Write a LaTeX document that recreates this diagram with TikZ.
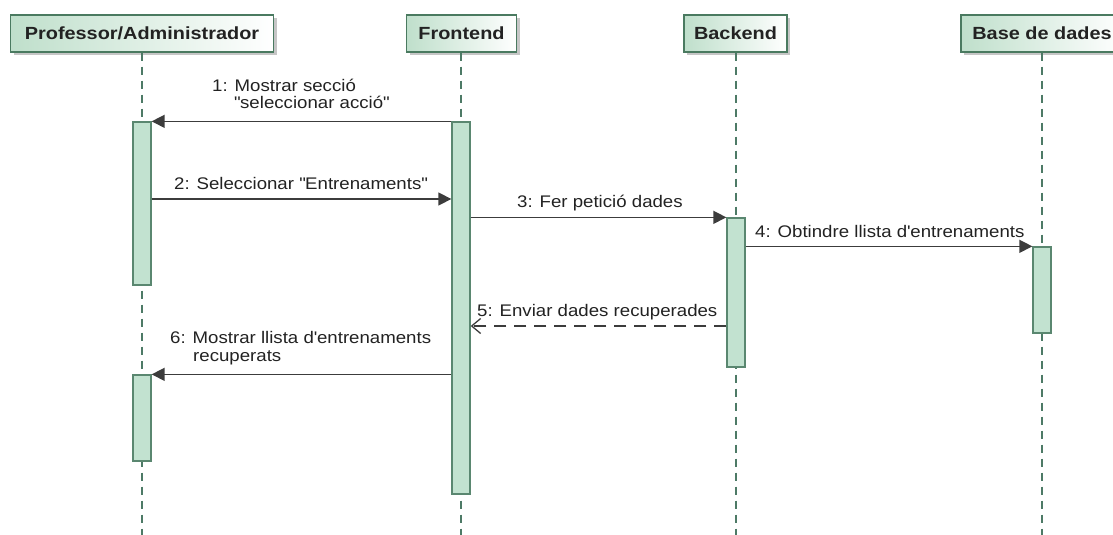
\documentclass[tikz,border=0pt]{standalone}
\usepackage{fontspec}
\setmainfont{Liberation Sans}[FakeStretch=1.11]
\newfontfamily\hdrfont{Liberation Sans}[FakeStretch=1.13]
\usetikzlibrary{arrows.meta,shadows}

\definecolor{hdrgreen}{HTML}{BFDFCB}
\definecolor{hdrline}{HTML}{4A7A60}
\definecolor{actfill}{HTML}{C2E2D0}
\definecolor{actline}{HTML}{5A8770}
\definecolor{lifeline}{HTML}{4D7A66}
\definecolor{msgline}{HTML}{3C3C3C}
\definecolor{txt}{HTML}{222222}

\newcommand{\dq}{\textquotedbl}

\begin{document}
\begin{tikzpicture}[x=1pt,y=-1pt,
  hdr/.style={draw=hdrline, line width=1.3pt, minimum height=37pt, inner sep=0pt,
    left color=hdrgreen, right color=white,
    drop shadow={shadow xshift=3pt, shadow yshift=-3pt, opacity=0.45, fill=gray},
    font=\hdrfont\fontsize{17.6}{20}\selectfont\bfseries, text=txt},
  life/.style={draw=lifeline, line width=1.3pt, dash pattern=on 8pt off 6pt},
  act/.style={draw=actline, fill=actfill, line width=1.3pt, minimum width=18pt, inner sep=0pt},
  msg/.style={draw=msgline, line width=1.4pt, -{Triangle[length=13pt,width=13pt]}},
  ret/.style={draw=msgline, line width=1.4pt, dash pattern=on 12pt off 8pt,
    -{Straight Barb[length=9pt,width=15pt,line width=1.3pt]}},
  lbl/.style={anchor=base west, inner sep=0pt, text=txt,
    font=\fontsize{16.8}{19}\selectfont}
]
\useasboundingbox (0,0) rectangle (1113,535);

% participant headers
\node[hdr, minimum width=263pt] (prof) at (142,33.5) {Professor/Administrador};
\node[hdr, minimum width=110pt] (fe) at (461.5,33.5) {Frontend};
\node[hdr, minimum width=103pt] (be) at (735.5,33.5) {Backend};
\node[hdr, minimum width=162pt] (db) at (1042,33.5) {Base de dades};

% lifeline ends at the bottom edge
\coordinate (profend) at (142,535);
\coordinate (feend) at (461,535);
\coordinate (beend) at (736,535);
\coordinate (dbend) at (1042,535);

\draw[life] (prof.south) -- (profend);
\draw[life] (fe.south -| feend) -- (feend);
\draw[life] (be.south -| beend) -- (beend);
\draw[life] (db.south) -- (dbend);

% activation bars
\node[act, minimum height=163pt] (pa1) at (142,203.5) {};
\node[act, minimum height=86pt]  (pa2) at (142,418) {};
\node[act, minimum height=372pt] (fe1) at (461,308) {};
\node[act, minimum height=149pt] (be1) at (736,292.5) {};
\node[act, minimum height=86pt]  (db1) at (1042,290) {};

% message heights
\coordinate (m2) at (0,199);
\coordinate (m5) at (0,326);

% messages
\draw[msg] (fe1.north west) -- (pa1.north east);
\draw[msg] (pa1.east |- m2) -- (fe1.west |- m2);
\draw[msg] (fe1.east |- be1.north) -- (be1.north west);
\draw[msg] (be1.east |- db1.north) -- (db1.north west);
\draw[ret] (be1.west |- m5) -- (fe1.east |- m5);
\draw[msg] (fe1.west |- pa2.north) -- (pa2.north east);

% message labels
\node[lbl] (l1a) at (212,91) {1: Mostrar secció};
\node[lbl] (l1b) at (234,108.5) {\dq seleccionar acció\dq};
\node[lbl] (l2) at (174,189) {2: Seleccionar \dq Entrenaments\dq};
\node[lbl] (l3) at (517,207) {3: Fer petició dades};
\node[lbl] (l4) at (755,237) {4: Obtindre llista d\textquotesingle entrenaments};
\node[lbl] (l5) at (477,316) {5: Enviar dades recuperades};
\node[lbl] (l6a) at (170,343) {6: Mostrar llista d\textquotesingle entrenaments};
\node[lbl] (l6b) at (193,361) {recuperats};
\end{tikzpicture}
\end{document}
